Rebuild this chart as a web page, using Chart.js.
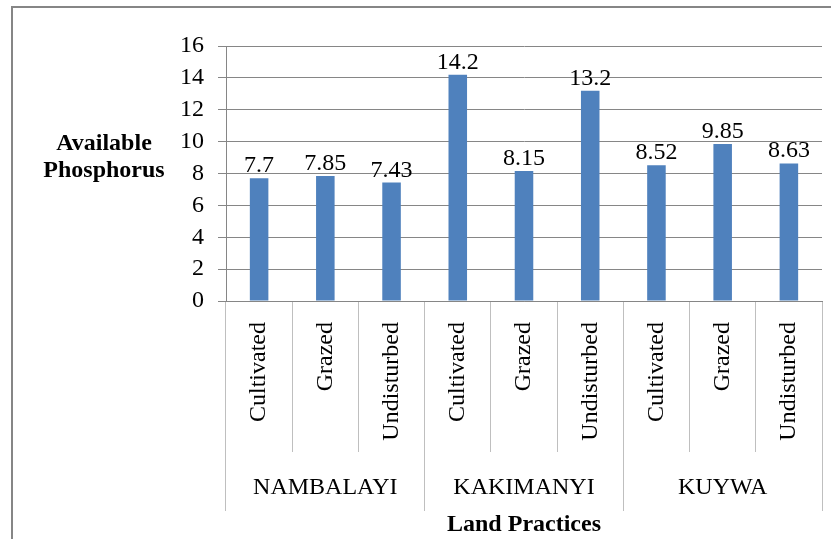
<!DOCTYPE html>
<html>
<head>
<meta charset="utf-8">
<script src="https://cdn.jsdelivr.net/npm/chart.js@4/dist/chart.umd.min.js"></script>
<style>
  html, body { margin: 0; padding: 0; background: #fff; }
  #wrap { position: relative; width: 831px; height: 539px; }
</style>
</head>
<body>
<div id="wrap"><canvas id="phosChart"></canvas></div>
<script>
// data
const practices = ['Cultivated', 'Grazed', 'Undisturbed', 'Cultivated', 'Grazed', 'Undisturbed', 'Cultivated', 'Grazed', 'Undisturbed'];
const sites = ['NAMBALAYI', 'KAKIMANYI', 'KUYWA'];
const phosphorus = [7.7, 7.85, 7.43, 14.2, 8.15, 13.2, 8.52, 9.85, 8.63];
const yTicks = [0, 2, 4, 6, 8, 10, 12, 14, 16];

const serif = 'Liberation Serif, Times New Roman, serif';

// outer frame + y title (horizontal, two lines)
const framePlugin = {
  id: 'frame',
  beforeDraw(chart) {
    const ctx = chart.ctx;
    ctx.save();
    ctx.strokeStyle = '#868686';
    ctx.lineWidth = 2;
    ctx.strokeRect(12, 7, 840, 560);
    ctx.restore();
  },
  afterDraw(chart) {
    const ctx = chart.ctx;
    ctx.save();
    ctx.fillStyle = '#000';
    ctx.font = 'bold 24px ' + serif;
    ctx.textAlign = 'center';
    ctx.textBaseline = 'alphabetic';
    ctx.fillText('Available', 104, 150);
    ctx.fillText('Phosphorus', 104, 177);
    ctx.restore();
  }
};

// value labels above each bar
const valueLabels = {
  id: 'valueLabels',
  afterDatasetsDraw(chart) {
    const ctx = chart.ctx;
    ctx.save();
    ctx.fillStyle = '#000';
    ctx.font = '24px ' + serif;
    ctx.textAlign = 'center';
    ctx.textBaseline = 'alphabetic';
    chart.getDatasetMeta(0).data.forEach((bar, i) => {
      ctx.fillText(String(chart.data.datasets[0].data[i]), bar.x, bar.y - 6);
    });
    ctx.restore();
  }
};

new Chart(document.getElementById('phosChart'), {
  type: 'bar',
  data: {
    labels: practices,
    datasets: [{
      data: phosphorus,
      backgroundColor: '#4F81BD',
      borderWidth: 0,
      barPercentage: 1,
      categoryPercentage: 0.28
    }]
  },
  options: {
    responsive: true,
    maintainAspectRatio: false,
    animation: false,
    layout: { padding: { left: 149, right: 9, top: 46, bottom: 0 } },
    plugins: {
      legend: { display: false },
      tooltip: { enabled: false }
    },
    scales: {
      y: {
        min: 0,
        max: 16,
        afterBuildTicks(scale) { scale.ticks = yTicks.map(v => ({ value: v })); },
        afterFit(scale) { scale.width = 77; },
        ticks: { color: '#000', font: { family: serif, size: 24 }, padding: 14 },
        grid: { color: '#868686', tickLength: 8 },
        border: { color: '#868686' }
      },
      x: {
        weight: 0,
        afterFit(scale) { scale.height = 151; },
        ticks: {
          color: '#000',
          font: { family: serif, size: 24 },
          minRotation: 90,
          maxRotation: 90,
          autoSkip: false,
          padding: -130
        },
        grid: { offset: true, drawOnChartArea: false, tickLength: 151, color: '#bfbfbf' },
        border: { color: '#868686' }
      },
      x2: {
        type: 'category',
        labels: sites,
        position: 'bottom',
        weight: 1,
        offset: true,
        afterFit(scale) { scale.height = 87; },
        ticks: { color: '#000', font: { family: serif, size: 24 }, autoSkip: false, maxRotation: 0, padding: -38 },
        grid: { offset: true, drawOnChartArea: false, tickLength: 59, color: '#bfbfbf' },
        border: { display: false },
        title: {
          display: true,
          text: 'Land Practices',
          color: '#000',
          font: { family: serif, size: 24, weight: 'bold', lineHeight: 1.2 },
          padding: 0
        }
      }
    }
  },
  plugins: [framePlugin, valueLabels]
});
</script>
</body>
</html>
